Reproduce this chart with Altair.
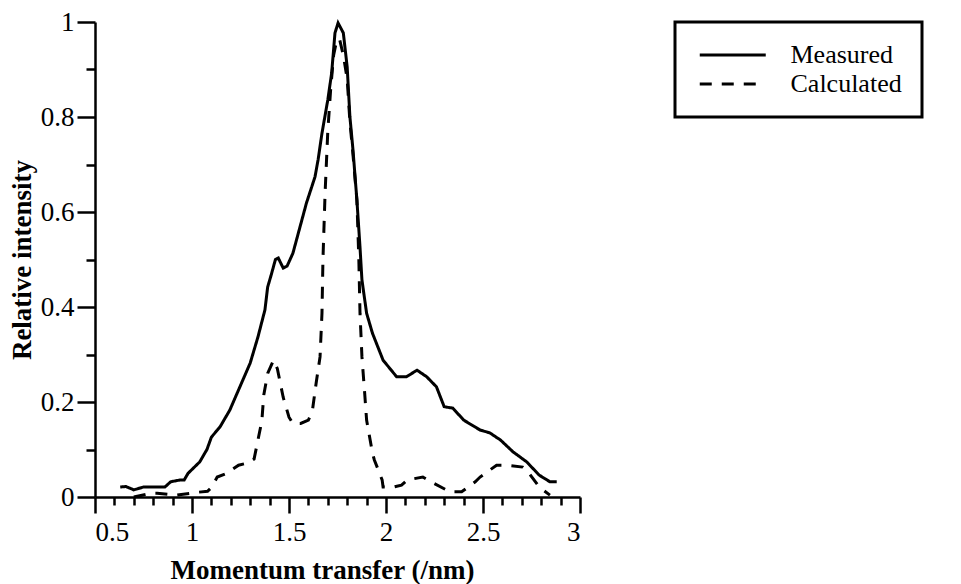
import altair as alt
import pandas as pd

# Measured curve (momentum transfer /nm, relative intensity)
meas_x = [0.63, 0.66, 0.70, 0.75, 0.80, 0.86, 0.89, 0.94, 0.96, 0.98, 1.04, 1.077, 1.10, 1.145,
          1.195, 1.247, 1.30, 1.34, 1.376, 1.39, 1.41, 1.43, 1.445, 1.47, 1.49, 1.52, 1.557,
          1.59, 1.634, 1.65, 1.67, 1.70, 1.72, 1.737, 1.753, 1.78, 1.80, 1.814, 1.83, 1.85,
          1.866, 1.876, 1.90, 1.93, 1.985, 2.055, 2.105, 2.16, 2.21, 2.26, 2.30, 2.345, 2.40,
          2.485, 2.535, 2.59, 2.655, 2.725, 2.79, 2.845, 2.88]
meas_y = [0.021, 0.022, 0.015, 0.021, 0.021, 0.021, 0.032, 0.036, 0.036, 0.050, 0.074, 0.100,
          0.126, 0.148, 0.183, 0.232, 0.282, 0.337, 0.394, 0.442, 0.470, 0.500, 0.503, 0.482,
          0.486, 0.513, 0.569, 0.619, 0.674, 0.710, 0.766, 0.836, 0.893, 0.977, 0.998, 0.977,
          0.905, 0.800, 0.730, 0.625, 0.526, 0.457, 0.387, 0.345, 0.288, 0.253, 0.253, 0.267,
          0.253, 0.232, 0.190, 0.187, 0.162, 0.141, 0.135, 0.120, 0.095, 0.074, 0.046, 0.032,
          0.032]

# Calculated curve
calc_x = [0.70, 0.79, 0.82, 0.92, 1.03, 1.08, 1.10, 1.13, 1.18, 1.24, 1.29, 1.32, 1.34, 1.36,
          1.37, 1.39, 1.42, 1.44, 1.46, 1.47, 1.50, 1.52, 1.56, 1.60, 1.62, 1.64, 1.66, 1.67,
          1.675, 1.686, 1.70, 1.715, 1.73, 1.745, 1.76, 1.78, 1.80, 1.814, 1.83, 1.85, 1.86,
          1.866, 1.876, 1.89, 1.90, 1.93, 1.94, 1.98, 1.985, 2.03, 2.08, 2.11, 2.19, 2.245,
          2.33, 2.39, 2.46, 2.485, 2.57, 2.62, 2.705, 2.725, 2.79, 2.845]
calc_y = [0.000, 0.008, 0.008, 0.004, 0.010, 0.012, 0.020, 0.042, 0.050, 0.067, 0.072, 0.080,
          0.120, 0.160, 0.215, 0.260, 0.288, 0.270, 0.230, 0.210, 0.168, 0.155, 0.155, 0.162,
          0.180, 0.240, 0.295, 0.387, 0.500, 0.640, 0.770, 0.860, 0.930, 0.960, 0.965, 0.930,
          0.880, 0.790, 0.720, 0.625, 0.500, 0.387, 0.295, 0.219, 0.162, 0.093, 0.078, 0.036,
          0.021, 0.020, 0.025, 0.036, 0.042, 0.029, 0.011, 0.011, 0.032, 0.042, 0.067, 0.067,
          0.063, 0.057, 0.021, 0.004]

series_names = ["Measured", "Calculated"]

x_major_ticks = [0.5, 1.0, 1.5, 2.0, 2.5, 3.0]
x_minor_ticks = [0.6, 0.7, 0.8, 0.9, 1.1, 1.2, 1.3, 1.4, 1.6, 1.7, 1.8, 1.9,
                 2.1, 2.2, 2.3, 2.4, 2.6, 2.7, 2.8, 2.9]
y_major_ticks = [0.0, 0.2, 0.4, 0.6, 0.8, 1.0]
y_minor_ticks = [0.1, 0.3, 0.5, 0.7, 0.9]

df = pd.concat([
    pd.DataFrame({"q": meas_x, "I": meas_y, "series": series_names[0], "order": range(len(meas_x))}),
    pd.DataFrame({"q": calc_x, "I": calc_y, "series": series_names[1], "order": range(len(calc_x))}),
])

FONT = "Liberation Serif"
xscale = alt.Scale(domain=[0.5, 3], nice=False, zero=False)
yscale = alt.Scale(domain=[0, 1], nice=False)

lines = alt.Chart(df).mark_line(strokeWidth=3, color="black").encode(
    x=alt.X("q:Q", scale=xscale,
            axis=alt.Axis(title="Momentum transfer (/nm)", values=x_major_ticks, orient="bottom",
                          labelExpr="format(datum.value, '~g')", tickSize=16,
                          labelPadding=6, titleY=73, titleX=227, titleAlign="center",
                          titleBaseline="middle")),
    y=alt.Y("I:Q", scale=yscale,
            axis=alt.Axis(title="Relative intensity", values=y_major_ticks, orient="left",
                          labelExpr="format(datum.value, '~g')", tickSize=18,
                          labelPadding=3, titleX=-73, titleBaseline="middle")),
    strokeDash=alt.StrokeDash("series:N",
                              scale=alt.Scale(domain=series_names, range=[[1, 0], [12, 10]]),
                              legend=alt.Legend(title=None, orient="none", legendX=580, legendY=0)),
    detail="series:N",
    order="order:Q",
)

minor = alt.Chart(df).mark_point(opacity=0).encode(
    x=alt.X("q:Q", scale=xscale,
            axis=alt.Axis(title=None, values=x_minor_ticks, orient="bottom", labels=False,
                          tickSize=8, domain=False)),
    y=alt.Y("I:Q", scale=yscale,
            axis=alt.Axis(title=None, values=y_minor_ticks, orient="left", labels=False,
                          tickSize=9, domain=False)),
)

chart = alt.layer(lines, minor).resolve_axis(
    x="independent", y="independent"
).properties(
    width=485, height=475,
    autosize=alt.AutoSizeParams(type="none"),
    padding={"left": 95, "top": 22, "right": 381, "bottom": 87},
).configure_view(
    stroke=None
).configure_axis(
    domainColor="black", domainWidth=2.5, tickColor="black", tickWidth=2.5,
    labelFont=FONT, labelFontSize=27, labelColor="black",
    titleFont=FONT, titleFontSize=27, titleFontWeight="bold", titleColor="black",
    grid=False,
).configure_legend(
    labelFont=FONT, labelFontSize=26, labelColor="black",
    symbolType="M-1,0H7", symbolSize=272.25, symbolStrokeWidth=3, symbolStrokeColor="black",
    labelOffset=69.5, strokeColor="black", strokeWidth=3, padding=20, rowPadding=3,
)

chart.save("out.html", embed_options={"renderer": "svg", "actions": False})
